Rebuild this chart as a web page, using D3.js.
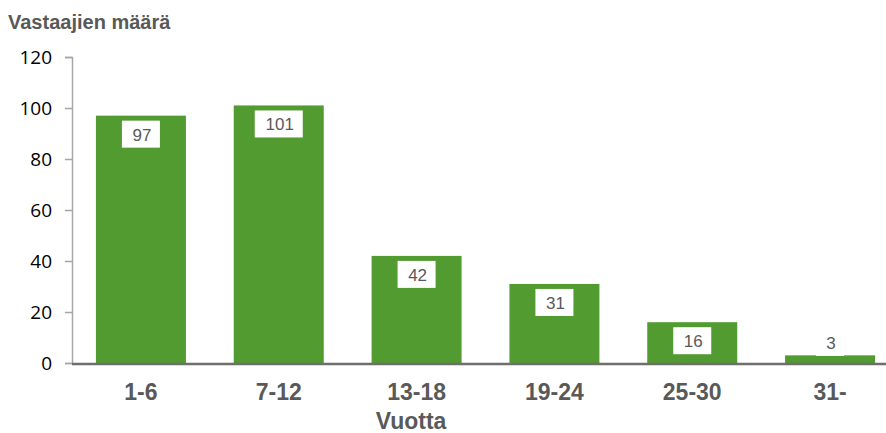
<!DOCTYPE html>
<html>
<head>
<meta charset="utf-8">
<script src="https://cdn.jsdelivr.net/npm/d3@7"></script>
<style>
  body { margin: 0; background: #fff; }
  svg { display: block; }
</style>
</head>
<body>
<div id="chart"></div>
<script>
const categories = ['1-6', '7-12', '13-18', '19-24', '25-30', '31-'];
const values = [97, 101, 42, 31, 16, 3];
const yTicks = [0, 20, 40, 60, 80, 100, 120];
const yTitle = 'Vastaajien määrä';
const xTitle = 'Vuotta';

const width = 886, height = 433;
const barColor = '#529B31';
const grey = '#595959';

const svg = d3.select('#chart').append('svg')
    .attr('width', width)
    .attr('height', height);

const x = d3.scaleBand()
    .domain(categories)
    .range([72, 899])
    .paddingInner(0.347)
    .paddingOuter(0.1735);

const y = d3.scaleLinear()
    .domain([0, 120])
    .range([363, 57]);

// y axis
const yAxis = svg.append('g')
    .attr('transform', 'translate(72,0)')
    .call(d3.axisLeft(y).tickValues(yTicks).tickSize(7).tickPadding(13));
yAxis.select('.domain').attr('stroke', '#a6a6a6').attr('stroke-width', 1.5);
yAxis.selectAll('.tick line').attr('stroke', '#a6a6a6').attr('stroke-width', 1.5);
yAxis.selectAll('.tick text')
    .attr('fill', '#000')
    .style('font-family', '"Open Sans", sans-serif')
    .style('font-size', '19px');

// bars
svg.append('g').selectAll('rect')
    .data(values)
    .join('rect')
    .attr('x', (d, i) => x(categories[i]))
    .attr('y', d => y(d))
    .attr('width', x.bandwidth())
    .attr('height', d => y(0) - y(d))
    .attr('fill', barColor);

// x axis line
svg.append('line')
    .attr('x1', 72).attr('x2', width)
    .attr('y1', 364).attr('y2', 364)
    .attr('stroke', '#6e6e6e')
    .attr('stroke-width', 2.5);

// value labels
const labels = svg.append('g').selectAll('g')
    .data(values)
    .join('g')
    .attr('transform', (d, i) => {
        const cx = x(categories[i]) + x.bandwidth() / 2;
        const top = Math.min(y(d) + 5, 329);
        return `translate(${cx},${top})`;
    });
labels.append('rect')
    .attr('x', d => -(String(d).length * 10 + 18) / 2)
    .attr('y', 0)
    .attr('width', d => String(d).length * 10 + 18)
    .attr('height', 27)
    .attr('fill', '#fff');
labels.append('text')
    .attr('x', 1)
    .attr('y', 20)
    .attr('text-anchor', 'middle')
    .attr('fill', grey)
    .style('font-family', '"Liberation Sans", Arial, sans-serif')
    .style('font-size', '17px')
    .text(d => d);

// category labels
svg.append('g').selectAll('text')
    .data(categories)
    .join('text')
    .attr('x', d => x(d) + x.bandwidth() / 2)
    .attr('y', 400)
    .attr('text-anchor', 'middle')
    .attr('fill', grey)
    .style('font-family', '"Liberation Sans", Arial, sans-serif')
    .style('font-weight', 'bold')
    .style('font-size', '23px')
    .text(d => d);

// axis titles
svg.append('text')
    .attr('x', 411)
    .attr('y', 429)
    .attr('text-anchor', 'middle')
    .attr('fill', grey)
    .style('font-family', '"Liberation Sans", Arial, sans-serif')
    .style('font-weight', 'bold')
    .style('font-size', '23px')
    .text(xTitle);

svg.append('text')
    .attr('x', 8)
    .attr('y', 29)
    .attr('fill', grey)
    .style('font-family', '"Liberation Sans", Arial, sans-serif')
    .style('font-weight', 'bold')
    .style('font-size', '20px')
    .text(yTitle);
</script>
</body>
</html>
